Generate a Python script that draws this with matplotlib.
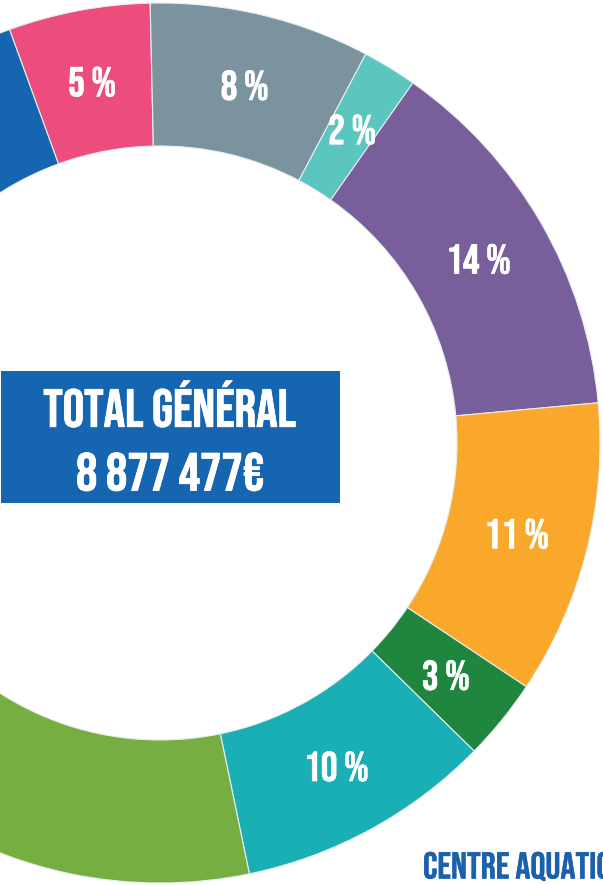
import numpy as np
import matplotlib
matplotlib.use("Agg")
import matplotlib.pyplot as plt
from matplotlib import font_manager as fm
from matplotlib import patheffects as pe
from matplotlib.patches import Rectangle

# ---------------- data ----------------
categories = ["Cat. A", "Cat. B", "Cat. C", "Cat. D", "Cat. E", "Cat. F",
              "Cat. G", "Cat. H", "Cat. I", "Cat. J"]
shares = [5.2, 8.1, 2.0, 13.8, 10.8, 3.0, 9.4, 26.0, 8.4, 13.3]
labels = ["5 %", "8 %", "2 %", "14 %", "11 %", "3 %", "10 %", "", "", ""]
colors = ["#ec4d7c", "#7b939e", "#5bc5bf", "#785f9c", "#f9a82b",
          "#20853f", "#1aaeb5", "#77ae41", "#9c9c9c", "#1565b0"]
total_title = "TOTAL GÉNÉRAL"
total_value = "8 877 477€"
side_label = "CENTRE AQUATIQUE"

# ---------------- font ----------------
names = {f.name for f in fm.fontManager.ttflist}
CONDENSED = None
for cand in ["Bebas Neue", "Oswald", "Barlow Condensed", "Roboto Condensed", "Fjalla One"]:
    if cand in names:
        CONDENSED = cand
        break

def fp(size):
    if CONDENSED == "Bebas Neue":
        return fm.FontProperties(family=[CONDENSED, "DejaVu Sans"], size=size)
    if CONDENSED:
        return fm.FontProperties(family=[CONDENSED, "DejaVu Sans"], weight="bold", size=size * 0.85)
    return fm.FontProperties(family="DejaVu Sans", weight="bold", size=size * 0.6)

def bold(color, lw=1.0):
    return [pe.withStroke(linewidth=lw, foreground=color)]

# ---------------- figure ----------------
W, H = 603, 886
fig = plt.figure(figsize=(W / 100, H / 100), dpi=100)
ax = fig.add_axes([0, 0, 1, 1])

cx, cy, R = 160, H - 443, 440
ring = 143

wedges, _ = ax.pie(
    shares, colors=colors, startangle=110, counterclock=False,
    center=(cx, cy), radius=R,
    wedgeprops=dict(width=ring, edgecolor="#e8eef0", linewidth=0.8),
)
label_r = 368
for w, lab in zip(wedges, labels):
    if not lab:
        continue
    ang = np.deg2rad((w.theta1 + w.theta2) / 2)
    ax.text(cx + label_r * np.cos(ang), cy + label_r * np.sin(ang), lab,
            ha="center", va="center", color="white", fontproperties=fp(30),
            path_effects=bold("white", 0.5))

ax.set_xlim(0, W)
ax.set_ylim(0, H)
ax.set_aspect("auto")
ax.axis("off")

# central total box
ax.add_patch(Rectangle((1, H - 503), 339, 132, facecolor="#1565b0",
                       edgecolor="none", zorder=3))
ax.text(170, H - 404, total_title, ha="center", va="center", color="white",
        fontproperties=fp(38.5), zorder=4, path_effects=bold("white", 0.6))
ax.text(170, H - 472, total_value, ha="center", va="center", color="white",
        fontproperties=fp(38.5), zorder=4, path_effects=bold("white", 0.6))

ax.text(423, H - 866, side_label, ha="left", va="center", color="#1a60ad",
        fontproperties=fp(27), zorder=4, path_effects=bold("#1a60ad", 0.3))

fig.savefig("out.png", dpi=100)
